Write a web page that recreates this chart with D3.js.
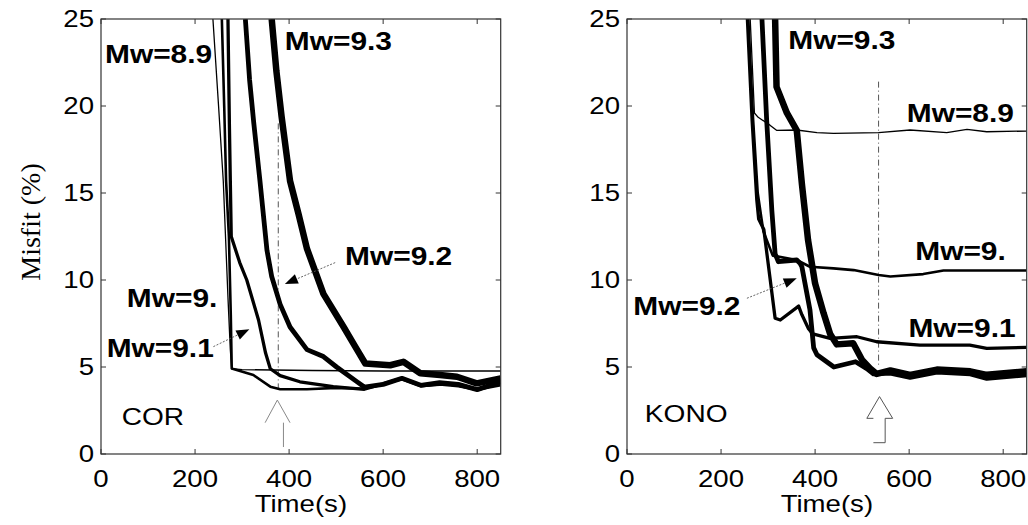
<!DOCTYPE html>
<html>
<head>
<meta charset="utf-8">
<script src="https://cdn.jsdelivr.net/npm/d3@7"></script>
<style>
  body { margin: 0; background: #fff; }
  svg { display: block; }
</style>
</head>
<body>
<div id="chart"></div>
<script>
// ---- data ----
var timeTicks = [0, 200, 400, 600, 800];
var misfitTicks = [0, 5, 10, 15, 20, 25];
var magnitudes = ["8.9", "9.", "9.1", "9.2", "9.3"];
var stations = ["COR", "KONO"];

// COR : [time (s), misfit (%)]
var cor89 = [[238,25],[250,20],[260,15.7],[270,9],[275,6],[278,4.9],[300,4.85],[450,4.8],[600,4.77],[850,4.77]];
var cor90 = [[257,25],[262,20],[266,15.7],[272,12.5],[276,8],[278,4.92],[324,4.54],[360,3.87],[381,3.72],[438,3.72],[500,3.8],[560,3.75],[640,4.3],[680,3.9],[720,4.0],[760,3.9],[800,3.7],[850,3.95]];
var cor91 = [[270,25],[273,19],[275,15.7],[277,12.5],[295,11],[310,10],[335,7.7],[350,5.8],[360,4.9],[381,4.5],[423,4.15],[494,3.87],[560,3.72],[640,4.35],[680,3.95],[750,4.05],[800,3.7],[850,4.1]];
var cor92 = [[307,25],[316,21.5],[325,19],[338,15.7],[353,11.7],[363,10.2],[381,8.6],[402,7.3],[438,6.0],[473,5.6],[501,5.0],[544,4.16],[560,3.85],[600,4.0],[640,4.35],[680,3.95],[720,4.1],[760,4.0],[800,3.7],[850,4.15]];
var cor93 = [[363,25],[373,22],[384,19.4],[402,15.7],[420,13.8],[438,11.8],[473,9.2],[516,7.3],[540,6.2],[562,5.2],[615,5.1],[643,5.3],[679,4.64],[721,4.54],[757,4.44],[799,4.06],[850,4.35]];

// KONO : [time (s), misfit (%)]
var kono89 = [[262,25],[271,19.6],[279,19.35],[304,18.9],[318,18.6],[361,18.62],[404,18.47],[439,18.43],[535,18.47],[602,18.62],[680,18.47],[723,18.66],[765,18.52],[850,18.56]];
var kono90 = [[258,25],[268,19.3],[278,15],[290,12.8],[310,11.4],[361,11.15],[389,10.76],[439,10.67],[482,10.57],[535,10.29],[560,10.2],[630,10.34],[673,10.55],[850,10.55]];
var kono91 = [[256,25],[266,19.2],[276,14.6],[280,13.5],[291,12.9],[315,7.8],[326,7.7],[365,8.5],[372,8.0],[386,7.2],[395,6.9],[432,6.65],[489,6.74],[531,6.45],[623,6.26],[729,6.26],[765,6.07],[850,6.13]];
var kono92 = [[287,25],[297,19.2],[308,14.0],[315,11.5],[322,11.05],[361,11.15],[368,10.95],[372,10.75],[389,8.3],[397,6.1],[404,5.7],[440,5.0],[486,5.3],[510,4.9],[524,4.6],[560,4.65],[602,4.4],[659,4.7],[730,4.6],[765,4.35],[850,4.55]];
var kono93 = [[315,25],[318,21.1],[340,19.6],[361,18.6],[372,15.5],[385,12.3],[400,9.8],[418,8.1],[432,6.9],[446,6.3],[481,6.36],[500,5.4],[517,4.92],[531,4.6],[560,4.8],[602,4.55],[659,4.85],[730,4.75],[765,4.55],[850,4.75]];

// time picked for each station (dash-dot marker)
var pickTimes = [377, 535];

// ---- drawing ----
var W = 1028, H = 525;
var svg = d3.select("#chart").append("svg")
    .attr("width", W)
    .attr("height", H);

var lineWidths = [1.3, 2.6, 3.3, 4.8, 6.5];
var axisColor = "#333";

function stretchText(g, px, py, str, size, weight, sx, family) {
    return g.append("text")
        .attr("transform", "translate(" + px + "," + py + ") scale(" + sx + ",1)")
        .style("font-family", family || "'Liberation Sans', Arial, sans-serif")
        .style("font-size", size + "px")
        .style("font-weight", weight)
        .style("fill", "#000")
        .text(str);
}

function drawPanel(p, idx) {
    var x = d3.scaleLinear().domain([0, 850]).range([p.left, p.left + 399.7]);
    var y = d3.scaleLinear().domain([0, 25]).range([454, 19]);
    var g = svg.append("g");

    var clipId = "clip" + idx;
    svg.append("clipPath").attr("id", clipId)
        .append("rect")
        .attr("x", x(0)).attr("y", y(25))
        .attr("width", x(850) - x(0)).attr("height", y(0) - y(25));

    // dash-dot pick line
    g.append("line")
        .attr("x1", x(pickTimes[idx])).attr("x2", x(pickTimes[idx]))
        .attr("y1", y(p.pickTop)).attr("y2", y(p.pickBottom))
        .attr("stroke", "#555")
        .attr("stroke-width", 1)
        .attr("stroke-dasharray", "6,3,1,3");

    // misfit curves
    var line = d3.line()
        .x(function(d) { return x(d[0]); })
        .y(function(d) { return y(d[1]); });

    g.append("g").attr("clip-path", "url(#" + clipId + ")")
        .selectAll("path")
        .data(p.series)
        .enter().append("path")
        .attr("d", line)
        .attr("fill", "none")
        .attr("stroke", "#000")
        .attr("stroke-width", function(d, i) { return lineWidths[i]; })
        .attr("stroke-linejoin", "round");

    // hollow block arrow marking the pick
    p.block.forEach(function(seg) {
        g.append("path")
            .attr("d", line(seg))
            .attr("fill", "none")
            .attr("stroke", p.blockColor)
            .attr("stroke-width", 1);
    });

    // box and inward ticks
    g.append("rect")
        .attr("x", x(0)).attr("y", y(25))
        .attr("width", x(850) - x(0)).attr("height", y(0) - y(25))
        .attr("fill", "none")
        .attr("stroke", axisColor)
        .attr("stroke-width", 1.2);

    timeTicks.forEach(function(t) {
        g.append("line").attr("x1", x(t)).attr("x2", x(t)).attr("y1", y(0)).attr("y2", y(0) - 5)
            .attr("stroke", axisColor);
        g.append("line").attr("x1", x(t)).attr("x2", x(t)).attr("y1", y(25)).attr("y2", y(25) + 5)
            .attr("stroke", axisColor);
        stretchText(g, x(t), 487, String(t), 23, "normal", 1.2)
            .attr("text-anchor", "middle");
    });
    misfitTicks.forEach(function(v) {
        g.append("line").attr("x1", x(0)).attr("x2", x(0) + 5).attr("y1", y(v)).attr("y2", y(v))
            .attr("stroke", axisColor);
        g.append("line").attr("x1", x(850)).attr("x2", x(850) - 5).attr("y1", y(v)).attr("y2", y(v))
            .attr("stroke", axisColor);
        stretchText(g, x(0) - 7, y(v) + 8, String(v), 23, "normal", 1.2)
            .attr("text-anchor", "end");
    });

    stretchText(g, (x(0) + x(850)) / 2, 512, "Time(s)", 23, "normal", 1.2)
        .attr("text-anchor", "middle");

    // station name
    stretchText(g, x(p.stationPos[0]), y(p.stationPos[1]), stations[idx], 24, "normal", 1.17);

    // magnitude labels
    p.labels.forEach(function(l, i) {
        if (!l) return;
        stretchText(g, x(l[0]), y(l[1]), "Mw=" + magnitudes[i], 26, "bold", 1.15);
    });

    // pointer arrows (dotted shaft + filled head)
    p.pointers.forEach(function(a) {
        var x1 = x(a[0][0]), y1 = y(a[0][1]), x2 = x(a[1][0]), y2 = y(a[1][1]);
        var ang = Math.atan2(y2 - y1, x2 - x1);
        var len = 13, hw = 5;
        var bx = x2 - len * Math.cos(ang), by = y2 - len * Math.sin(ang);
        g.append("line")
            .attr("x1", x1).attr("y1", y1).attr("x2", bx).attr("y2", by)
            .attr("stroke", "#555").attr("stroke-width", 0.9)
            .attr("stroke-dasharray", "2,1.5");
        var pts = [
            [x2, y2],
            [bx + hw * Math.sin(ang), by - hw * Math.cos(ang)],
            [bx - hw * Math.sin(ang), by + hw * Math.cos(ang)]
        ];
        g.append("polygon")
            .attr("points", pts.map(function(q) { return q.join(","); }).join(" "))
            .attr("fill", "#000");
    });
}

var panels = [
    {
        left: 101,
        series: [cor89, cor90, cor91, cor92, cor93],
        pickTop: 19, pickBottom: 3.7,
        block: [[[349,1.8],[375,3.1],[402,1.8]], [[388,1.8],[388,0.4]]],
        blockColor: "#888",
        stationPos: [44, 1.67],
        labels: [[8.5,22.5],[55,8.47],[12,5.6],[519,10.86],[391,23.2]],
        pointers: [[[498,11.0],[391,9.77]], [[239,6.17],[315.5,7.17]]]
    },
    {
        left: 627,
        series: [kono89, kono90, kono91, kono92, kono93],
        pickTop: 21.4, pickBottom: 5.1,
        block: [[[524,2.05],[510,2.05],[537,3.3],[565,2.05],[549,2.05],[549,0.65],[524,0.65]]],
        blockColor: "#555",
        stationPos: [38, 1.84],
        labels: [[595,19.1],[613,11.15],[598.5,6.74],[13.4,8.0],[343,23.3]],
        pointers: [[[255,8.95],[361,10.1]]]
    }
];

panels.forEach(drawPanel);

// y axis title
svg.append("text")
    .attr("transform", "translate(40,222) rotate(-90)")
    .attr("text-anchor", "middle")
    .style("font-family", "'Liberation Serif', 'Times New Roman', serif")
    .style("font-size", "28px")
    .style("fill", "#000")
    .text("Misfit (%)");
</script>
</body>
</html>
